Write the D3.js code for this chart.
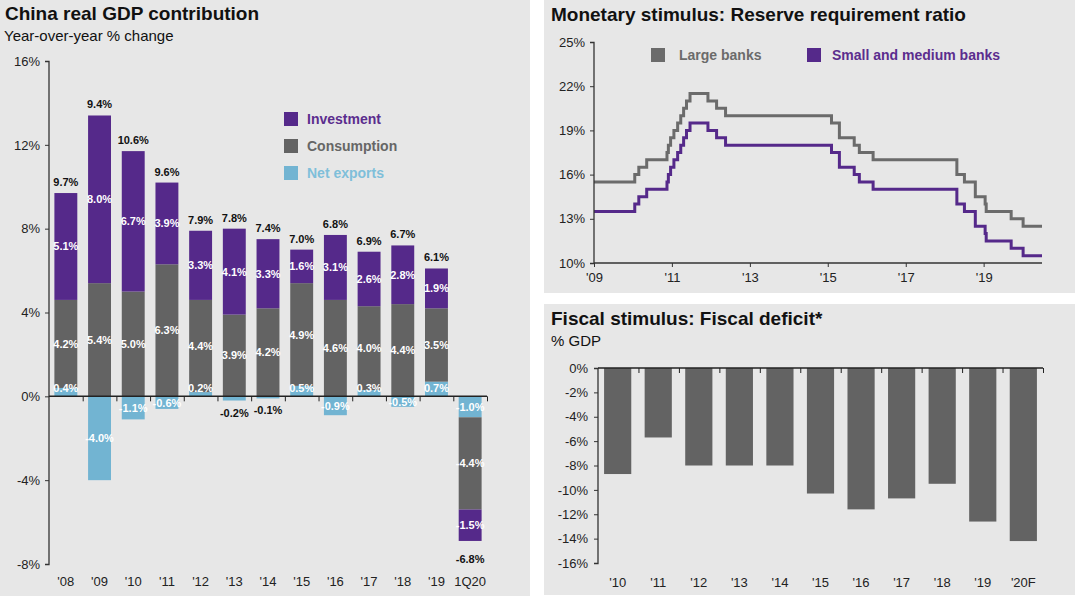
<!DOCTYPE html>
<html><head><meta charset="utf-8">
<script src="https://cdn.jsdelivr.net/npm/d3@7"></script>
<style>
html,body{margin:0;padding:0;background:#fff;}
svg{display:block;font-family:"Liberation Sans",Arial,sans-serif;}
</style></head>
<body>
<svg id="c" width="1080" height="605"></svg>
<script>
// ---------- Data ----------
const gdpYears = ["'08","'09","'10","'11","'12","'13","'14","'15","'16","'17","'18","'19","1Q20"];
const netExports = [0.4,-4.0,-1.1,-0.6,0.2,-0.2,-0.1,0.5,-0.9,0.3,-0.5,0.7,-1.0];
const consumption = [4.2,5.4,5.0,6.3,4.4,3.9,4.2,4.9,4.6,4.0,4.4,3.5,-4.4];
const investment = [5.1,8.0,6.7,3.9,3.3,4.1,3.3,1.6,3.1,2.6,2.8,1.9,-1.5];
const gdpTotal = [9.7,9.4,10.6,9.6,7.9,7.8,7.4,7.0,6.8,6.9,6.7,6.1,-6.8];
const gdpTicks = [-8,-4,0,4,8,12,16];
const gdpSeries = ["Net exports","Consumption","Investment"];

const rrrDates = ["2009-01-01","2010-01-18","2010-02-25","2010-05-10","2010-11-16","2010-11-29","2010-12-20","2011-01-20","2011-02-24","2011-03-25","2011-04-21","2011-05-18","2011-06-20","2011-12-05","2012-02-24","2012-05-18","2015-02-05","2015-04-20","2015-09-06","2015-10-24","2016-03-01","2018-04-25","2018-07-05","2018-10-15","2019-01-15","2019-01-25","2019-09-16","2020-01-06","2020-07-01"];
const rrrLarge = [15.5,16,16.5,17,17.5,18,18.5,19,19.5,20,20.5,21,21.5,21,20.5,20,19.5,18.5,18,17.5,17,16,15.5,14.5,14,13.5,13,12.5,12.5];
const rrrSmall = [13.5,14,14.5,15,15.5,16,16.5,17,17.5,18,18.5,19,19.5,19,18.5,18,17.5,16.5,16,15.5,15,14,13.5,12.5,12,11.5,11,10.5,10.5];
const rrrTicks = [10,13,16,19,22,25];
const rrrYearTicks = [2009,2011,2013,2015,2017,2019];

const fiscalYears = ["'10","'11","'12","'13","'14","'15","'16","'17","'18","'19","'20F"];
const fiscalDeficit = [-8.7,-5.7,-8.0,-8.0,-8.0,-10.3,-11.6,-10.7,-9.5,-12.6,-14.2];
const fiscalTicks = [0,-2,-4,-6,-8,-10,-12,-14,-16];

// ---------- Styles ----------
const C = {purple:"#55298a", grey:"#636363", blue:"#72b4d2", panel:"#e7e7e7", axis:"#333", text:"#222"};
const svg = d3.select("#c");
const pct = v => v.toFixed(1) + "%";

// panels
svg.append("rect").attr("x",0).attr("y",0).attr("width",530).attr("height",596).attr("fill",C.panel);
svg.append("rect").attr("x",544).attr("y",0).attr("width",531).attr("height",293).attr("fill",C.panel);
svg.append("rect").attr("x",544).attr("y",304).attr("width",531).attr("height",291).attr("fill",C.panel);

function title(x,y,t){ svg.append("text").attr("x",x).attr("y",y).attr("font-size",19).attr("font-weight","bold").attr("fill","#111").text(t); }
function sub(x,y,t){ svg.append("text").attr("x",x).attr("y",y).attr("font-size",15).attr("fill","#111").text(t); }

// ================= Left: GDP contribution =================
title(5,20,"China real GDP contribution");
sub(4,41,"Year-over-year % change");
{
  const g = svg.append("g");
  const x = d3.scaleBand().domain(gdpYears).range([49,487]).paddingInner(0.32).paddingOuter(0.16);
  const y = d3.scaleLinear().domain([-8,16]).range([564,61]);
  const rows = gdpYears.map((k,i)=>({k, "Net exports":netExports[i], "Consumption":consumption[i], "Investment":investment[i]}));
  const stack = d3.stack().keys(gdpSeries).offset(d3.stackOffsetDiverging)(rows);
  const col = {"Net exports":C.blue,"Consumption":C.grey,"Investment":C.purple};
  stack.forEach(s=>{
    g.append("g").selectAll("rect").data(s).join("rect")
      .attr("x",d=>x(d.data.k)).attr("width",x.bandwidth())
      .attr("y",d=>y(Math.max(d[0],d[1]))).attr("height",d=>Math.abs(y(d[0])-y(d[1])))
      .attr("fill",col[s.key]);
  });
  // segment labels
  stack.forEach(s=>{
    s.forEach(d=>{
      const v = d.data[s.key];
      const small = v<0 && Math.abs(v)<0.3;
      const cx = x(d.data.k)+x.bandwidth()/2;
      let cy = (y(d[0])+y(d[1]))/2 + 4;
      if (s.key==="Net exports" && v>0) cy = Math.min(cy, y(0)-4);
      if (small) cy = y(d3.min([d[0],d[1]])) + 16;
      g.append("text").attr("x",cx).attr("y",cy).attr("text-anchor","middle")
        .attr("font-size",11).attr("font-weight","bold").attr("fill",small?"#111":"#fff").text(pct(v));
    });
  });
  // total labels
  rows.forEach((r,i)=>{
    const pos = d3.sum(gdpSeries,k=>Math.max(0,r[k]));
    const neg = d3.sum(gdpSeries,k=>Math.min(0,r[k]));
    const cx = x(r.k)+x.bandwidth()/2;
    const ty = gdpTotal[i]>=0 ? y(pos)-7 : y(neg)+22;
    g.append("text").attr("x",cx).attr("y",ty).attr("text-anchor","middle")
      .attr("font-size",11).attr("font-weight","bold").attr("fill","#111").text(pct(gdpTotal[i]));
  });
  // y axis
  const ya = g.append("g").attr("transform","translate(49,0)")
    .call(d3.axisLeft(y).tickValues(gdpTicks).tickFormat(d=>d+"%").tickSize(4).tickPadding(5));
  ya.select(".domain").attr("stroke",C.axis).attr("stroke-width",1.3).attr("d","M-4,61.5H0V564.5H-4");
  ya.selectAll(".tick line").attr("stroke",C.axis);
  ya.selectAll("text").attr("font-size",13).attr("fill",C.text).attr("font-family","Liberation Sans, Arial, sans-serif");
  // zero axis with ticks at band boundaries
  const xa = g.append("g").attr("transform",`translate(0,${y(0)})`)
    .call(d3.axisBottom(d3.scaleLinear().domain([0,13]).range([49,487])).tickValues(d3.range(1,14)).tickSize(5).tickFormat(""));
  xa.select(".domain").attr("stroke","#222").attr("stroke-width",1.5).attr("d","M49,0H487");
  xa.selectAll(".tick line").attr("stroke","#222");
  // category labels at bottom
  g.append("g").selectAll("text").data(gdpYears).join("text")
    .attr("x",d=>x(d)+x.bandwidth()/2).attr("y",586).attr("text-anchor","middle")
    .attr("font-size",13).attr("fill",C.text).text(d=>d);
  // legend
  const leg = g.append("g");
  gdpSeries.slice().reverse().forEach((k,i)=>{
    leg.append("rect").attr("x",284).attr("y",112+i*27).attr("width",14).attr("height",14).attr("fill",col[k]);
    leg.append("text").attr("x",307).attr("y",124+i*27).attr("font-size",14).attr("font-weight","bold")
      .attr("fill",k==="Investment"?"#5b2d8e":k==="Consumption"?"#666":"#7fbfda").text(k);
  });
}

// ================= Top right: RRR =================
title(551,21,"Monetary stimulus: Reserve requirement ratio");
{
  const g = svg.append("g");
  const parse = d3.timeParse("%Y-%m-%d");
  const dates = rrrDates.map(parse);
  const x = d3.scaleTime().domain([new Date(2009,0,1), new Date(2020,6,1)]).range([594,1042]);
  const y = d3.scaleLinear().domain([10,25]).range([263,42]);
  const line = d3.line().x(d=>x(d[0])).y(d=>y(d[1])).curve(d3.curveStepAfter);
  g.append("path").attr("d",line(dates.map((d,i)=>[d,rrrLarge[i]]))).attr("fill","none").attr("stroke","#6b6b6b").attr("stroke-width",3);
  g.append("path").attr("d",line(dates.map((d,i)=>[d,rrrSmall[i]]))).attr("fill","none").attr("stroke",C.purple).attr("stroke-width",3);
  const ya = g.append("g").attr("transform","translate(594,0)")
    .call(d3.axisLeft(y).tickValues(rrrTicks).tickFormat(d=>d+"%").tickSize(4).tickPadding(5));
  ya.select(".domain").attr("stroke",C.axis).attr("stroke-width",1.3).attr("d","M-4,42.5H0V263.5H-4");
  ya.selectAll(".tick line").attr("stroke",C.axis);
  ya.selectAll("text").attr("font-size",13).attr("fill",C.text).attr("font-family","Liberation Sans, Arial, sans-serif");
  const xa = g.append("g").attr("transform","translate(0,263)")
    .call(d3.axisBottom(x).tickValues(rrrYearTicks.map(yr=>new Date(yr,0,1))).tickFormat(d=>"'"+d3.timeFormat("%y")(d)).tickSize(4).tickPadding(6));
  xa.select(".domain").attr("stroke",C.axis).attr("stroke-width",1.3).attr("d","M594,0H1042");
  xa.selectAll(".tick line").attr("stroke",C.axis);
  xa.selectAll("text").attr("font-size",13).attr("fill",C.text).attr("font-family","Liberation Sans, Arial, sans-serif");
  // legend
  g.append("rect").attr("x",651).attr("y",48).attr("width",14).attr("height",14).attr("fill","#6b6b6b");
  g.append("text").attr("x",679).attr("y",60).attr("font-size",14).attr("font-weight","bold").attr("fill","#6b6b6b").text("Large banks");
  g.append("rect").attr("x",807).attr("y",48).attr("width",14).attr("height",14).attr("fill",C.purple);
  g.append("text").attr("x",832).attr("y",60).attr("font-size",14).attr("font-weight","bold").attr("fill","#5b2d8e").text("Small and medium banks");
}

// ================= Bottom right: Fiscal deficit =================
title(551,325,"Fiscal stimulus: Fiscal deficit*");
sub(551,346,"% GDP");
{
  const g = svg.append("g");
  const x = d3.scaleBand().domain(fiscalYears).range([598,1043]).paddingInner(0.33).paddingOuter(0.15);
  const y = d3.scaleLinear().domain([-16,0]).range([563,368]);
  g.selectAll("rect").data(fiscalDeficit).join("rect")
    .attr("x",(d,i)=>x(fiscalYears[i])).attr("width",x.bandwidth())
    .attr("y",y(0)).attr("height",d=>y(d)-y(0)).attr("fill",C.grey);
  const ya = g.append("g").attr("transform","translate(598,0)")
    .call(d3.axisLeft(y).tickValues(fiscalTicks).tickFormat(d=>d+"%").tickSize(4).tickPadding(6));
  ya.select(".domain").attr("stroke",C.axis).attr("stroke-width",1.3).attr("d","M-4,368.5H0V563.5H-4");
  ya.selectAll(".tick line").attr("stroke",C.axis);
  ya.selectAll("text").attr("font-size",13).attr("fill",C.text).attr("font-family","Liberation Sans, Arial, sans-serif");
  const xa = g.append("g").attr("transform","translate(0,368)")
    .call(d3.axisBottom(d3.scaleLinear().domain([0,11]).range([598,1043])).tickValues(d3.range(1,12)).tickSize(5).tickFormat(""));
  xa.select(".domain").attr("stroke","#222").attr("stroke-width",1.5).attr("d","M598,0H1043");
  xa.selectAll(".tick line").attr("stroke","#222");
  g.append("g").selectAll("text").data(fiscalYears).join("text")
    .attr("x",d=>x(d)+x.bandwidth()/2).attr("y",587).attr("text-anchor","middle")
    .attr("font-size",13).attr("fill",C.text).text(d=>d);
}
</script>
</body></html>
